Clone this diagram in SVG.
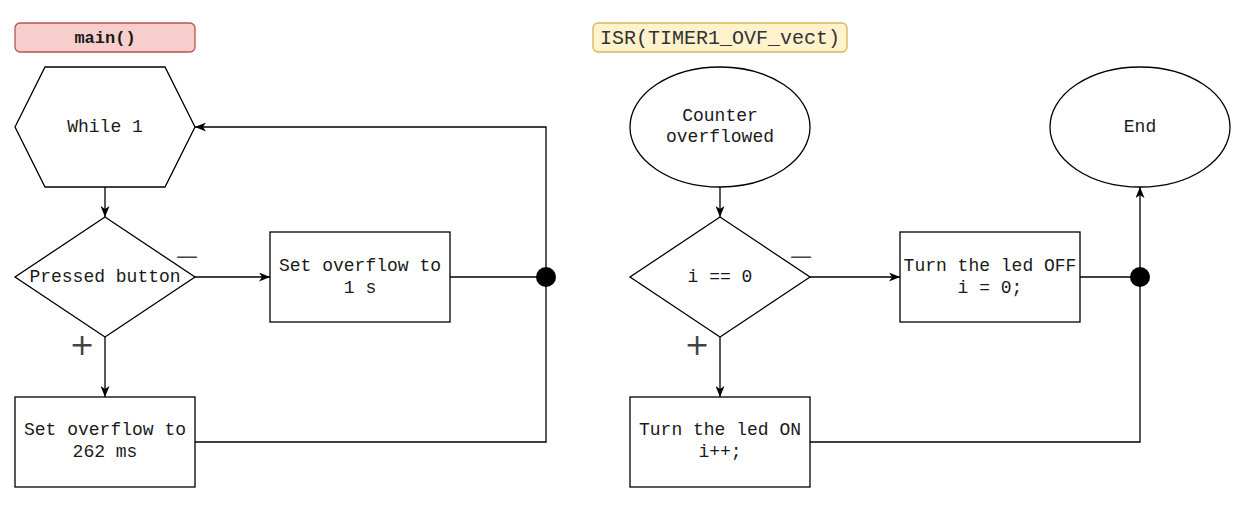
<svg xmlns="http://www.w3.org/2000/svg" width="1246" height="506" viewBox="0 0 1246 506">
<style>
.shape{fill:#fff;stroke:#000;stroke-width:1.3}
.t{font-family:"Liberation Mono","Courier New",monospace;font-size:18px;fill:#1a1a1a;text-anchor:middle}
.edge{fill:none;stroke:#000;stroke-width:1.3}
.sign{font-family:"DejaVu Sans",sans-serif;fill:#444;text-anchor:middle}
</style>
<defs>
<marker id="arr" viewBox="0 0 11 9" refX="11" refY="4.5" markerWidth="11" markerHeight="9" markerUnits="userSpaceOnUse" orient="auto">
<path d="M0,0 L11,4.5 L0,9 L3,4.5 z" fill="#000"/>
</marker>
</defs>
<rect width="1246" height="506" fill="#fff"/>

<g id="label-main">
<rect x="15" y="23" width="180" height="29" rx="5" fill="#f8cecc" stroke="#b85450" stroke-width="1.3"/>
<text class="t" x="105" y="43" style="font-weight:bold;font-size:17px">main()</text>
</g>
<g id="label-isr">
<rect x="593" y="23" width="254" height="29" rx="5" fill="#fff2cc" stroke="#d6b656" stroke-width="1.3"/>
<text class="t" x="720" y="44" style="font-size:20px;fill:#333">ISR(TIMER1_OVF_vect)</text>
</g>

<g id="edges">
<path class="edge" d="M105,187 L105,217" marker-end="url(#arr)"/>
<path class="edge" d="M195,277 L270,277" marker-end="url(#arr)"/>
<path class="edge" d="M105,337 L105,397" marker-end="url(#arr)"/>
<path class="edge" d="M450,277 L546,277"/>
<path class="edge" d="M195,442 L546,442 L546,127 L195,127" marker-end="url(#arr)"/>
<circle cx="546" cy="277" r="10" fill="#000"/>
<path class="edge" d="M720,187 L720,217" marker-end="url(#arr)"/>
<path class="edge" d="M810,277 L900,277" marker-end="url(#arr)"/>
<path class="edge" d="M720,337 L720,397" marker-end="url(#arr)"/>
<path class="edge" d="M1080,277 L1140,277"/>
<path class="edge" d="M810,442 L1140,442 L1140,187" marker-end="url(#arr)"/>
<circle cx="1140" cy="277" r="10" fill="#000"/>
<text class="sign" x="187" y="263" style="font-size:22px">—</text>
<text class="sign" x="82" y="355" style="font-size:30px">+</text>
<text class="sign" x="801" y="263" style="font-size:22px">—</text>
<text class="sign" x="697" y="355" style="font-size:30px">+</text>
</g>

<g id="while">
<polygon class="shape" points="15,127 45,67 165,67 195,127 165,187 45,187"/>
<text class="t" x="105" y="132">While 1</text>
</g>
<g id="pressed">
<polygon class="shape" points="105,217 195,277 105,337 15,277"/>
<text class="t" x="105" y="282">Pressed button</text>
</g>
<g id="set1s">
<rect class="shape" x="270" y="232" width="180" height="90"/>
<text class="t" x="360" y="271">Set overflow to</text>
<text class="t" x="360" y="293">1 s</text>
</g>
<g id="set262">
<rect class="shape" x="15" y="397" width="180" height="90"/>
<text class="t" x="105" y="435">Set overflow to</text>
<text class="t" x="105" y="457">262 ms</text>
</g>

<g id="counter">
<ellipse class="shape" cx="720" cy="127" rx="90" ry="60"/>
<text class="t" x="720" y="121">Counter</text>
<text class="t" x="720" y="142">overflowed</text>
</g>
<g id="cond">
<polygon class="shape" points="720,217 810,277 720,337 630,277"/>
<text class="t" x="720" y="282">i == 0</text>
</g>
<g id="off">
<rect class="shape" x="900" y="232" width="180" height="90"/>
<text class="t" x="990" y="271">Turn the led OFF</text>
<text class="t" x="990" y="293">i = 0;</text>
</g>
<g id="on">
<rect class="shape" x="630" y="397" width="180" height="90"/>
<text class="t" x="720" y="435">Turn the led ON</text>
<text class="t" x="720" y="457">i++;</text>
</g>
<g id="end">
<ellipse class="shape" cx="1140" cy="127" rx="90" ry="60"/>
<text class="t" x="1140" y="132">End</text>
</g>
</svg>
